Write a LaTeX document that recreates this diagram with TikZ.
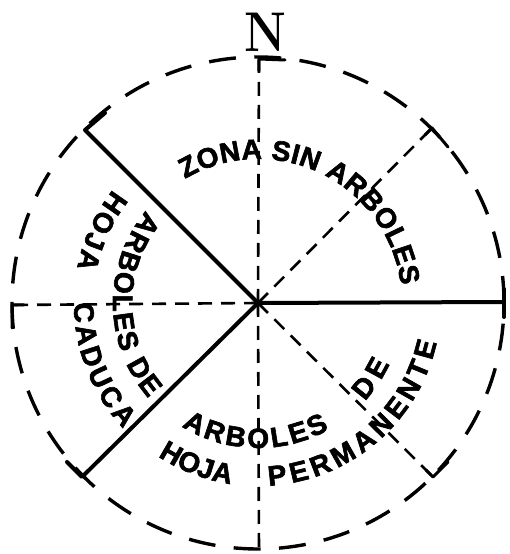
\documentclass[tikz,border=0pt]{standalone}
\usepackage{fontspec}
\newfontfamily\handfont{Liberation Sans}[FakeBold=2.2]
\usetikzlibrary{decorations.text,calc}
\begin{document}
\begin{tikzpicture}[x=1pt,y=1pt,
  solidline/.style={line width=4pt, line cap=round, line join=round},
  dashline/.style={line width=2.6pt, dash pattern=on 14pt off 9pt},
  tickline/.style={line width=3pt, line cap=round, line join=round},
  rim/.style={line width=3.4pt, dash pattern=on 27pt off 18.4pt},
  arctext/.style={decorate, decoration={text along path, text align=fit to path,
     text={|\handfont\bfseries\fontsize{28}{30}\selectfont|#1}}}
]
\useasboundingbox (0,0) rectangle (509,554);
\coordinate (C) at (258,251);
% dashed rim
\draw[rim] (C) circle[radius=246];
% end points and ticks
\coordinate (UL) at (85,424);  \coordinate (ULt) at (105,441);
\coordinate (LL) at (82,77);   \coordinate (LLt) at (67,92);
\coordinate (E) at (504,252);  \coordinate (Et1) at (504,265); \coordinate (Et2) at (504,237);
\coordinate (Nn) at (259,495); \coordinate (Nt) at (285,494);
\coordinate (NE) at (432,426); \coordinate (NEt) at (448,407);
\coordinate (W) at (12,249);   \coordinate (Wt) at (12,226);
\coordinate (SE) at (433,77);  \coordinate (SEt) at (448,92);
\coordinate (S) at (259,2);
% solid boundaries
\draw[solidline] (ULt) -- (UL) -- (C) -- (LL) -- (LLt);
\draw[solidline] (C) -- (E);
\draw[solidline] (Et1) -- (Et2);
% dashed lines
\draw[dashline] (C) -- (Nn);
\draw[dashline] (C) -- (NE);
\draw[dashline] (C) -- (W);
\draw[dashline] (C) -- (SE);
\draw[dashline] (C) -- (S);
% corner ticks
\draw[tickline] ($(Nn)!12pt!(C)$) -- (Nn) -- (Nt);
\draw[tickline] ($(NE)!10pt!(C)$) -- (NE) -- (NEt);
\draw[tickline] ($(W)!12pt!(C)$) -- (W) -- (Wt);
\draw[tickline] ($(SE)!10pt!(C)$) -- (SE) -- (SEt);
% north label
\node[xscale=0.85, inner sep=0pt] (Nlabel) at (265,522) {\fontsize{56}{56}\selectfont\bfseries N};
% texts
\path[arctext={ZONA SIN ARBOLES}] ([shift={(C)}]120.5:144) arc[start angle=120.5, end angle=7, radius=144];
\path[arctext={ARBOLES DE}] ([shift={(C)}]140.5:145) arc[start angle=140.5, end angle=221, radius=145];
\path[arctext={HOJA}] ([shift={(C)}]142:184) arc[start angle=142, end angle=169, radius=184];
\path[arctext={CADUCA}] ([shift={(C)}]180:184) arc[start angle=180, end angle=223, radius=184];
\path[arctext={ARBOLES}] ([shift={(C)}]-121.7:145) arc[start angle=-121.7, end angle=-60.6, radius=145];
\path[arctext={DE}] ([shift={(C)}]-42.6:145) arc[start angle=-42.6, end angle=-24.9, radius=145];
\path[arctext={HOJA}] ([shift={(C)}]-123.1:183) arc[start angle=-123.1, end angle=-98.6, radius=183];
\path[arctext={PERMANENTE}] ([shift={(C)}]-86.6:183) arc[start angle=-86.6, end angle=-12.5, radius=183];
\end{tikzpicture}
\end{document}
